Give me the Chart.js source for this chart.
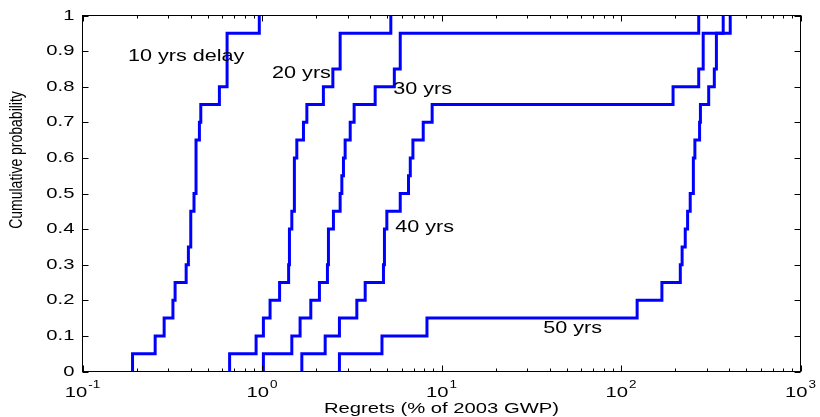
<!DOCTYPE html>
<html>
<head>
<meta charset="utf-8">
<script src="https://cdn.jsdelivr.net/npm/chart.js@4.4.1/dist/chart.umd.min.js"></script>
<style>
  html, body { margin: 0; padding: 0; background: #fff; }
  #wrap { width: 820px; height: 417px; }
</style>
</head>
<body>
<div id="wrap"><canvas id="cdf" width="820" height="417"></canvas></div>
<script>
// sorted regrets (% of 2003 GWP), one value per run, 20 runs per delay
const delay10 = [0.19, 0.254, 0.285, 0.319, 0.328, 0.378, 0.389, 0.401, 0.401, 0.418,
                 0.429, 0.429, 0.429, 0.448, 0.456, 0.579, 0.639, 0.639, 0.639, 0.966];
const delay20 = [0.66, 0.927, 1.018, 1.109, 1.253, 1.407, 1.422, 1.422, 1.466, 1.515,
                 1.515, 1.515, 1.563, 1.702, 1.778, 2.198, 2.482, 2.725, 2.725, 5.22];
const delay30 = [1.018, 1.466, 1.63, 1.87, 2.089, 2.315, 2.345, 2.345, 2.5, 2.725,
                 2.785, 2.843, 2.905, 3.1, 3.26, 4.27, 5.46, 5.89, 5.89, 271];
const delay40 = [1.667, 2.249, 2.70, 3.375, 3.757, 4.75, 4.81, 4.81, 4.96, 5.89,
                 6.55, 6.70, 6.93, 7.91, 8.87, 195, 271, 287, 287, 371];
const delay50 = [2.70, 4.66, 8.30, 123, 169, 214, 219, 228, 235, 243,
                 253, 253, 258, 274, 277, 308, 331, 340, 340, 406];

const curveNames = ['10 yrs delay', '20 yrs', '30 yrs', '40 yrs', '50 yrs'];
// text anchors in data units (left edge regret, probability)
const nameX = [0.179, 1.138, 5.38, 5.52, 36.9];
const nameY = [0.884, 0.836, 0.791, 0.404, 0.120];

const xExponents = [-1, 0, 1, 2, 3];
const yTicks = [0, 0.1, 0.2, 0.3, 0.4, 0.5, 0.6, 0.7, 0.8, 0.9, 1];
const yTickLabels = ['0', '0.1', '0.2', '0.3', '0.4', '0.5', '0.6', '0.7', '0.8', '0.9', '1'];

const xTitle = 'Regrets (% of 2003 GWP)';
const yTitle = 'Cumulative probability';

// the picture is stretched sideways, so text gets the same treatment
const SX = 1.35;
const FONT = '"Liberation Sans", Arial, sans-serif';

// empirical CDF -> points for a step-before line
function toSteps(samples) {
    const n = samples.length;
    const pts = [{ x: samples[0], y: 0 }];
    samples.forEach((v, i) => pts.push({ x: v, y: (i + 1) / n }));
    return pts;
}

function wideText(ctx, str, x, y, align) {
    ctx.save();
    ctx.translate(x, y);
    ctx.scale(SX, 1);
    ctx.textAlign = align;
    ctx.fillText(str, 0, 0);
    ctx.restore();
}

const matlabAxes = {
    id: 'matlabAxes',
    afterDraw(chart) {
        const { ctx, chartArea: { left, right, top, bottom }, scales: { x, y } } = chart;
        ctx.save();
        ctx.strokeStyle = '#000';
        ctx.lineWidth = 1;

        // box
        ctx.strokeRect(left, top, right - left, bottom - top);

        // y ticks, inward on both sides
        ctx.beginPath();
        yTicks.forEach(v => {
            const py = Math.round(y.getPixelForValue(v)) + 0.5;
            ctx.moveTo(left, py); ctx.lineTo(left + 6, py);
            ctx.moveTo(right, py); ctx.lineTo(right - 6, py);
        });
        // x ticks: decades long, 2..9 short
        xExponents.forEach((e, i) => {
            const px = Math.round(x.getPixelForValue(Math.pow(10, e))) + 0.5;
            ctx.moveTo(px, bottom); ctx.lineTo(px, bottom - 6);
            ctx.moveTo(px, top); ctx.lineTo(px, top + 6);
            if (i === xExponents.length - 1) return;
            for (let m = 2; m <= 9; m++) {
                const mx = Math.round(x.getPixelForValue(m * Math.pow(10, e))) + 0.5;
                ctx.moveTo(mx, bottom); ctx.lineTo(mx, bottom - 3);
                ctx.moveTo(mx, top); ctx.lineTo(mx, top + 3);
            }
        });
        ctx.stroke();

        ctx.fillStyle = '#000';
        // y tick labels
        ctx.font = '15px ' + FONT;
        ctx.textBaseline = 'middle';
        yTicks.forEach((v, i) => {
            wideText(ctx, yTickLabels[i], left - 8, y.getPixelForValue(v), 'right');
        });

        // x tick labels 10^e
        ctx.textBaseline = 'alphabetic';
        xExponents.forEach(e => {
            const px = x.getPixelForValue(Math.pow(10, e));
            ctx.font = '15px ' + FONT;
            const w1 = ctx.measureText('10').width * SX;
            ctx.font = '10px ' + FONT;
            const w2 = ctx.measureText(String(e)).width * SX;
            const x0 = px - (w1 + 1 + w2) / 2;
            ctx.font = '15px ' + FONT;
            wideText(ctx, '10', x0, bottom + 25, 'left');
            ctx.font = '10px ' + FONT;
            wideText(ctx, String(e), x0 + w1 + 1, bottom + 16, 'left');
        });

        // curve names
        ctx.font = '16px ' + FONT;
        ctx.textBaseline = 'middle';
        curveNames.forEach((t, i) => {
            wideText(ctx, t, x.getPixelForValue(nameX[i]), y.getPixelForValue(nameY[i]), 'left');
        });

        // axis titles
        ctx.font = '15px ' + FONT;
        ctx.textBaseline = 'alphabetic';
        wideText(ctx, xTitle, (left + right) / 2, 413, 'center');

        ctx.save();
        ctx.translate(22, 160);
        ctx.rotate(-Math.PI / 2);
        ctx.scale(1, SX);
        ctx.font = '14px ' + FONT;
        ctx.textAlign = 'center';
        ctx.fillText(yTitle, 0, 0);
        ctx.restore();

        ctx.restore();
    }
};

const series = [delay10, delay20, delay30, delay40, delay50];

new Chart(document.getElementById('cdf'), {
    type: 'line',
    data: {
        datasets: series.map((s, i) => ({
            label: curveNames[i],
            data: toSteps(s),
            stepped: true,
            borderColor: '#0000ff',
            borderWidth: 3,
            borderJoinStyle: 'miter',
            pointRadius: 0,
            fill: false
        }))
    },
    options: {
        responsive: false,
        animation: false,
        devicePixelRatio: 1,
        layout: { padding: { top: 15.5, right: 19.5, left: 0, bottom: 0 } },
        plugins: { legend: { display: false }, tooltip: { enabled: false } },
        scales: {
            x: {
                type: 'logarithmic', min: 0.1, max: 1000,
                grid: { display: false }, border: { display: false },
                ticks: { display: false },
                afterFit: s => { s.height = 45.5; }
            },
            y: {
                min: 0, max: 1,
                grid: { display: false }, border: { display: false },
                ticks: { display: false },
                afterFit: s => { s.width = 82.5; }
            }
        }
    },
    plugins: [matlabAxes]
});
</script>
</body>
</html>
